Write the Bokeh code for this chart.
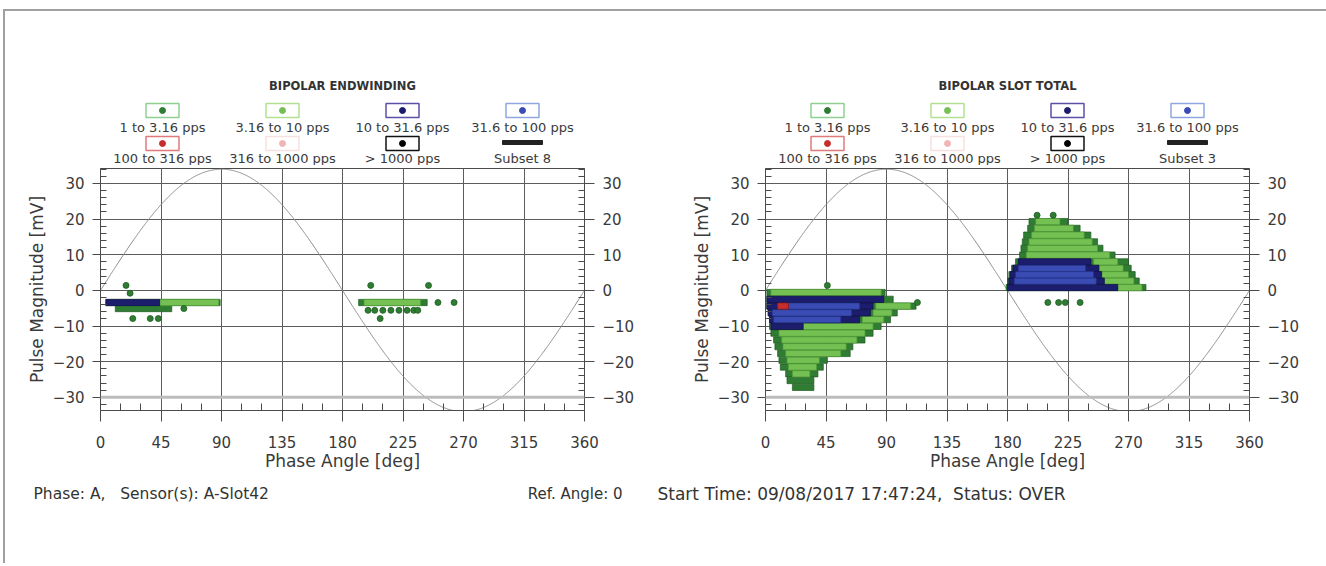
import numpy as np
from bokeh.plotting import figure
from bokeh.models import Range1d, FixedTicker, LinearAxis, Span, ColumnDataSource
from bokeh.layouts import column, row
from bokeh.embed import file_html
from bokeh.resources import INLINE
from bokeh.core.properties import value

FONT = "DejaVu Sans"

# ---------------- data ----------------
rate_labels = ["1 to 3.16 pps", "3.16 to 10 pps", "10 to 31.6 pps", "31.6 to 100 pps",
               "100 to 316 pps", "316 to 1000 pps", "> 1000 pps"]
rate_fill = ["#2f7d32", "#74c053", "#1d1d6e", "#3a4cb4", "#c62e2e", "#f2b5b5", "#000000"]
rate_edge = ["#1d5a20", "#4f9a35", "#0f0f4a", "#24338a", "#8a1a1a", "#e09090", "#000000"]
legend_box_line = ["#8fd08f", "#b2e092", "#5a50a6", "#8fa6e0", "#e07a7a", "#f6e0e0", "#111111"]
subset_labels = ["Subset 8", "Subset 3"]
panel_titles = ["BIPOLAR ENDWINDING", "BIPOLAR SLOT TOTAL"]

x_tick_values = [0, 45, 90, 135, 180, 225, 270, 315, 360]
y_tick_values = [-30, -20, -10, 0, 10, 20, 30]
ref_sine_amplitude = 34.0

# Bipolar Endwinding: pulse rows (magnitude mV, phase start, phase end, rate class)
endw_run_mag = [-3.4, -5.1, -3.4, -3.4, -3.4, -3.4]
endw_run_start = [4, 11, 44, 4, 192, 196]
endw_run_end = [89, 53, 88, 44, 243, 238]
endw_run_cat = [0, 0, 1, 2, 0, 1]
# Bipolar Endwinding: isolated pulses
endw_dot_phase = [19, 22, 62, 24, 37, 43, 201, 244, 251, 263, 199, 204, 210, 216, 222, 228, 233, 236, 208]
endw_dot_mag = [1.4, -0.8, -5.1, -7.9, -7.9, -7.9, 1.4, 1.4, -3.4, -3.4, -5.6, -5.6, -5.6, -5.6, -5.6, -5.6, -5.6, -5.6, -7.9]
endw_dot_cat = [0] * 19

# Bipolar Slot Total: pulse rows
slot_run_mag = [
    -0.6, -2.5, -4.4, -6.3, -8.2, -10.1, -12.0, -13.9, -15.8, -17.7, -19.6, -21.5, -23.4, -25.3, -27.2,
    0.8, 2.6, 4.4, 6.2, 8.0, 9.9, 11.8, 13.6, 15.5, 17.4, 19.3,
    -0.6, -4.4, -6.3, -8.2, -10.1, -12.0, -13.9, -15.8, -17.7, -19.6, -21.5, -23.4,
    0.8, 2.6, 4.4, 6.2, 8.0, 9.9, 11.8, 13.6, 15.5, 17.4, 19.3,
    -2.5, -4.4, -6.3, -8.2, -10.1, 0.8, 2.6, 4.4, 6.2, 8.0,
    -4.4, -6.3, -8.2, 2.6, 4.4, 6.2,
    -4.4,
]
slot_run_start = [
    1, 1, 1, 2, 3, 3, 4, 6, 7, 9, 10, 11, 15, 16, 20,
    179, 180, 181, 183, 186, 189, 190, 191, 192, 195, 196,
    4, 82, 80, 72, 28, 10, 12, 13, 15, 16, 17, 20,
    262, 252, 250, 248, 244, 194, 195, 196, 198, 200, 201,
    1, 1, 2, 3, 4, 180, 181, 182, 184, 188,
    17, 5, 6, 185, 186, 188,
    9,
]
slot_run_end = [
    89, 95, 112, 98, 93, 86, 80, 74, 65, 63, 46, 43, 39, 36, 36,
    283, 278, 275, 272, 270, 260, 251, 247, 242, 234, 225,
    86, 108, 94, 88, 80, 74, 68, 60, 56, 40, 38, 33,
    280, 274, 270, 266, 262, 256, 247, 243, 237, 229, 219,
    88, 80, 78, 70, 28, 262, 252, 250, 248, 242,
    70, 64, 56, 246, 244, 238,
    17,
]
slot_run_cat = [0] * 15 + [0] * 11 + [1] * 12 + [1] * 11 + [2] * 10 + [3] * 6 + [4]
# Bipolar Slot Total: isolated pulses
slot_dot_phase = [46, 202, 214, 210, 218, 223, 234, 113]
slot_dot_mag = [1.4, 21.1, 21.1, -3.4, -3.4, -3.4, -3.4, -3.4]
slot_dot_cat = [0, 0, 0, 0, 0, 0, 0, 0]

NB = "\u00a0"
footer_left = "Phase: A," + NB * 3 + "Sensor(s): A-Slot42"
footer_mid = "Ref. Angle: 0"
footer_right = "Start Time: 09/08/2017 17:47:24," + NB * 2 + "Status: OVER"

# ---------------- layout constants ----------------
OX, OY = 5, 11            # page position of the content origin (inside the border)
FRAME_W, FRAME_H = 484, 242
TOTAL_W = 1321
TOP_H, PLOT_H, FOOT_H = 154, 310, 88
panel_centers = [342, 1007]
col_offsets = [-180, -60, 60, 180]


def make_panel(run_mag, run_start, run_end, run_cat, dot_phase, dot_mag, dot_cat, bl, br):
    p = figure(width=bl + FRAME_W + br, height=PLOT_H,
               x_range=Range1d(0, 360), y_range=Range1d(-33.7, 34.2),
               min_border_left=bl, min_border_right=br, min_border_top=3, min_border_bottom=65,
               toolbar_location=None, output_backend="svg")
    p.outline_line_color = "#4a4a4a"
    p.outline_line_width = 1

    p.xgrid.ticker = FixedTicker(ticks=x_tick_values)
    p.ygrid.ticker = FixedTicker(ticks=[v for v in y_tick_values if v != -30])
    for g in (p.xgrid[0], p.ygrid[0]):
        g.grid_line_color = "#5c5c5c"
        g.grid_line_width = 1
        g.grid_line_alpha = 1
    p.add_layout(Span(location=-30, dimension="width", line_color="#bdbdbd", line_width=3))

    ph = np.linspace(0, 360, 721)
    p.line(ph, ref_sine_amplitude * np.sin(np.radians(ph)), line_color="#8c8c8c", line_width=1)

    src = ColumnDataSource(dict(
        y=run_mag, left=run_start, right=run_end,
        fill=[rate_fill[c] for c in run_cat], edge=[rate_edge[c] for c in run_cat]))
    p.hbar(y="y", left="left", right="right", height=1.75, source=src,
           fill_color="fill", line_color="edge", line_width=0.7)
    dsrc = ColumnDataSource(dict(
        x=dot_phase, y=dot_mag,
        fill=[rate_fill[c] for c in dot_cat], edge=[rate_edge[c] for c in dot_cat]))
    p.scatter(x="x", y="y", source=dsrc, size=6, fill_color="fill", line_color="edge", line_width=0.8)

    x_minor = [v for v in range(0, 361, 15) if v % 45]
    y_minor = [v for v in range(-34, 35, 2) if v % 10]

    def style_axis(ax):
        ax.axis_line_color = "#4a4a4a"
        ax.major_tick_line_color = "#4a4a4a"
        ax.minor_tick_line_color = "#4a4a4a"
        ax.major_label_text_font = FONT
        ax.major_label_text_font_size = "15px"
        ax.major_label_text_color = "#3a3a3a"
        ax.axis_label_text_font = FONT
        ax.axis_label_text_font_size = "17px"
        ax.axis_label_text_font_style = "normal"
        ax.axis_label_text_color = "#3a3a3a"

    xa = p.xaxis[0]
    xa.ticker = FixedTicker(ticks=x_tick_values, minor_ticks=x_minor)
    xa.major_tick_in = 0
    xa.major_tick_out = 11
    xa.minor_tick_in = 7
    xa.minor_tick_out = 0
    xa.major_label_standoff = 14
    xa.axis_label = "Phase Angle [deg]"
    xa.axis_label_standoff = 0
    style_axis(xa)

    ya = p.yaxis[0]
    ya.ticker = FixedTicker(ticks=y_tick_values, minor_ticks=y_minor)
    ya.major_tick_in = 0
    ya.major_tick_out = 8
    ya.minor_tick_in = 6
    ya.minor_tick_out = 0
    ya.major_label_standoff = 8
    ya.axis_label = "Pulse Magnitude [mV]"
    ya.axis_label_standoff = 3
    style_axis(ya)

    ra = LinearAxis(ticker=FixedTicker(ticks=y_tick_values, minor_ticks=y_minor))
    ra.major_tick_in = 0
    ra.major_tick_out = 10
    ra.minor_tick_in = 6
    ra.minor_tick_out = 0
    ra.major_label_standoff = 8
    style_axis(ra)
    p.add_layout(ra, "right")
    return p


# ---------------- legend / titles ----------------
top = figure(width=TOTAL_W, height=TOP_H, x_range=Range1d(OX, OX + TOTAL_W), y_range=Range1d(OY + TOP_H, OY),
             x_axis_type=None, y_axis_type=None, min_border=0, toolbar_location=None, output_backend="svg")
top.grid.visible = False
top.outline_line_color = None

box_x, box_y, box_line, dot_x, dot_y, dot_fill, lab_x, lab_y, lab_t = [], [], [], [], [], [], [], [], []
line_x, line_y = [], []
for pi, c in enumerate(panel_centers):
    top.text(x=[c], y=[85], text=[panel_titles[pi]], text_font=value(FONT), text_font_size="11.5px",
             text_font_style="bold", text_color="#333333", text_align="center", text_baseline="middle")
    for k in range(8):
        r, col = divmod(k, 4)
        x = c + col_offsets[col]
        by = 110 if r == 0 else 143
        ly = 127 if r == 0 else 158
        if k < 7:
            box_x.append(x); box_y.append(by); box_line.append(legend_box_line[k])
            dot_x.append(x); dot_y.append(by); dot_fill.append(rate_fill[k])
            lab_t.append(rate_labels[k])
        else:
            line_x.append(x); line_y.append(142)
            lab_t.append(subset_labels[pi])
        lab_x.append(x); lab_y.append(ly)

top.rect(x=box_x, y=box_y, width=33, height=14, fill_color="white", line_color=box_line, line_width=1.5)
top.scatter(x=dot_x, y=dot_y, size=6, fill_color=dot_fill, line_color=dot_fill)
top.rect(x=line_x, y=line_y, width=40, height=4, fill_color="#222222", line_color="#222222")
top.text(x=lab_x, y=lab_y, text=lab_t, text_font=value(FONT), text_font_size="13px",
         text_color="#3a3a3a", text_align="center", text_baseline="middle")

# ---------------- plots ----------------
LEFT_W = 675 - OX
left = make_panel(endw_run_mag, endw_run_start, endw_run_end, endw_run_cat,
                  endw_dot_phase, endw_dot_mag, endw_dot_cat, 100 - OX, LEFT_W - (100 - OX) - FRAME_W)
right = make_panel(slot_run_mag, slot_run_start, slot_run_end, slot_run_cat,
                   slot_dot_phase, slot_dot_mag, slot_dot_cat, 90, TOTAL_W - LEFT_W - 90 - FRAME_W)

# ---------------- footer ----------------
fy0 = OY + TOP_H + PLOT_H
foot = figure(width=TOTAL_W, height=FOOT_H, x_range=Range1d(OX, OX + TOTAL_W), y_range=Range1d(fy0 + FOOT_H, fy0),
              x_axis_type=None, y_axis_type=None, min_border=0, toolbar_location=None, output_backend="svg")
foot.grid.visible = False
foot.outline_line_color = None
foot.text(x=[33], y=[493], text=[footer_left], text_font=value(FONT),
          text_font_size="15.5px", text_color="#333333", text_align="left", text_baseline="middle")
foot.text(x=[657], y=[493], text=[footer_right], text_font=value(FONT),
          text_font_size="17px", text_color="#333333", text_align="left", text_baseline="middle")
foot.text(x=[622], y=[493], text=[footer_mid], text_font=value(FONT),
          text_font_size="15px", text_color="#333333", text_align="right", text_baseline="middle")

layout = column(top, row(left, right), foot,
                styles={"border-top": "2px solid #a0a0a0", "border-left": "2px solid #a0a0a0",
                        "margin-left": "3px", "margin-top": "9px"})

open("out.html", "w").write(file_html(layout, INLINE))
